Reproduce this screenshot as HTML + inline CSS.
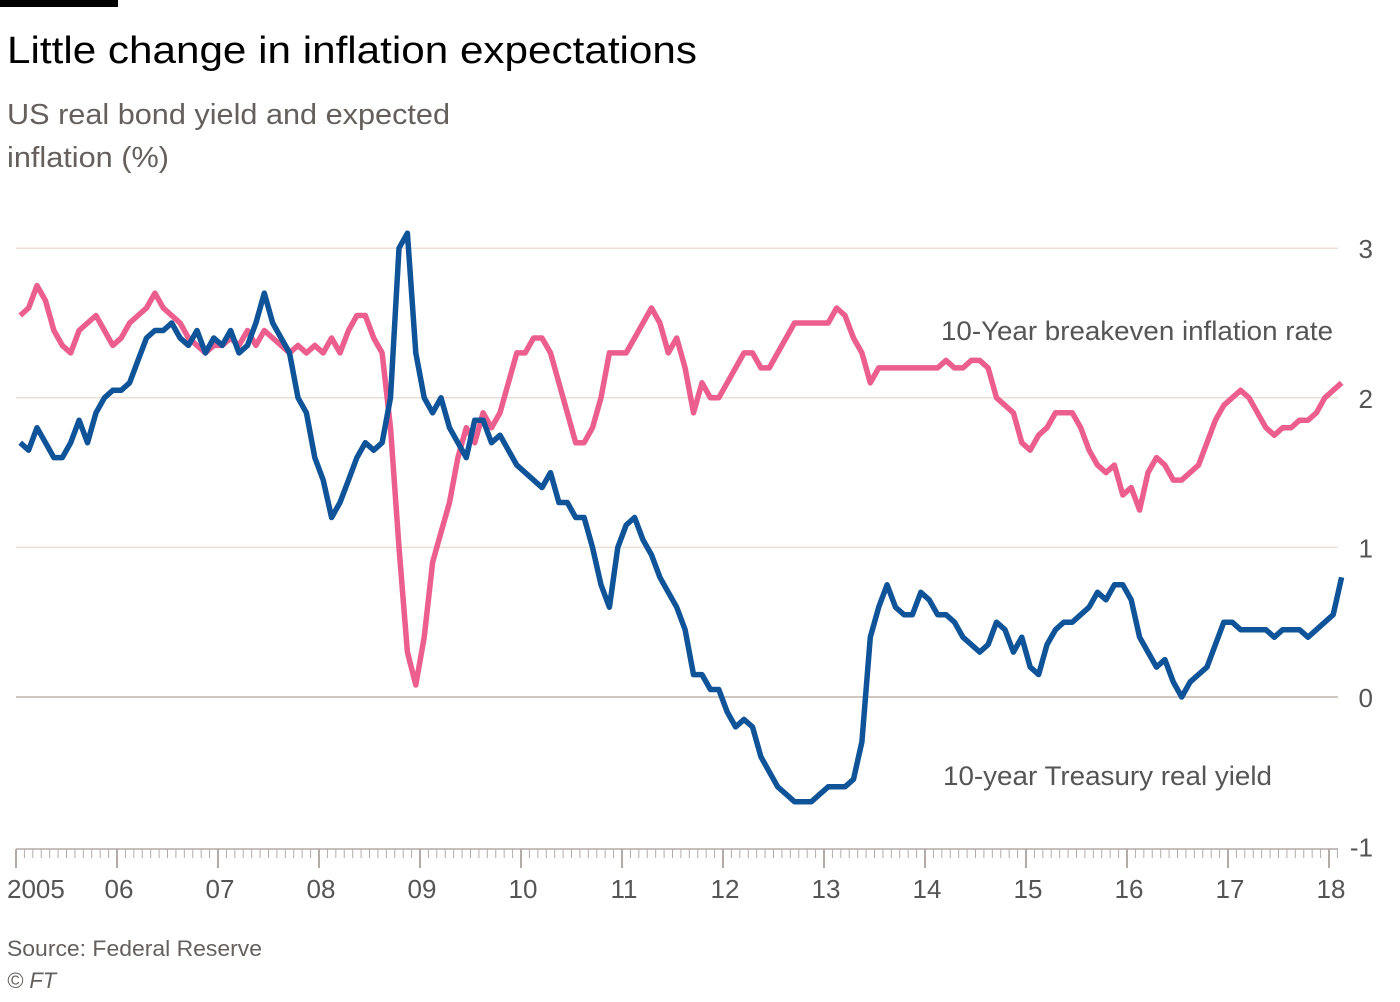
<!DOCTYPE html>
<html><head><meta charset="utf-8">
<style>
body{margin:0;background:#fff;width:1400px;height:997px;overflow:hidden;font-family:"Liberation Sans",sans-serif;}
svg text{font-family:"Liberation Sans",sans-serif;}
</style></head>
<body>
<svg id="chart" width="1400" height="997" xmlns="http://www.w3.org/2000/svg">
<rect x="0" y="0" width="118" height="7" fill="#000"/>
<text x="7" y="63" font-size="38" fill="#000" textLength="690" lengthAdjust="spacingAndGlyphs">Little change in inflation expectations</text>
<text x="7" y="124" font-size="29" fill="#66605c" textLength="443" lengthAdjust="spacingAndGlyphs">US real bond yield and expected</text>
<text x="7" y="167" font-size="29" fill="#66605c" textLength="162" lengthAdjust="spacingAndGlyphs">inflation (%)</text>
<g id="grid"></g>
<g id="xaxis"></g>
<g id="series"></g>
<text x="941" y="340" font-size="27" fill="#555" textLength="392" lengthAdjust="spacingAndGlyphs">10-Year breakeven inflation rate</text>
<text x="943" y="785" font-size="27" fill="#555" textLength="329" lengthAdjust="spacingAndGlyphs">10-year Treasury real yield</text>
<text x="7" y="956" font-size="22" fill="#66605c" textLength="255" lengthAdjust="spacingAndGlyphs">Source: Federal Reserve</text>
<text x="7" y="988" font-size="22" fill="#66605c" font-style="italic">© FT</text>
</svg>
<script>
const yTicks=[3,2,1,0,-1];
const yearLabels=["2005","06","07","08","09","10","11","12","13","14","15","16","17","18"];
const breakeven=[
2.55,2.6,2.75,2.65,2.45,2.35,2.3,2.45,2.5,2.55,2.45,2.35,
2.4,2.5,2.55,2.6,2.7,2.6,2.55,2.5,2.4,2.35,2.3,2.35,
2.35,2.4,2.35,2.45,2.35,2.45,2.4,2.35,2.3,2.35,2.3,2.35,
2.3,2.4,2.3,2.45,2.55,2.55,2.4,2.3,1.8,1.0,0.3,0.08,
0.4,0.9,1.1,1.3,1.6,1.8,1.7,1.9,1.8,1.9,2.1,2.3,
2.3,2.4,2.4,2.3,2.1,1.9,1.7,1.7,1.8,2.0,2.3,2.3,
2.3,2.4,2.5,2.6,2.5,2.3,2.4,2.2,1.9,2.1,2.0,2.0,
2.1,2.2,2.3,2.3,2.2,2.2,2.3,2.4,2.5,2.5,2.5,2.5,
2.5,2.6,2.55,2.4,2.3,2.1,2.2,2.2,2.2,2.2,2.2,2.2,
2.2,2.2,2.25,2.2,2.2,2.25,2.25,2.2,2.0,1.95,1.9,1.7,
1.65,1.75,1.8,1.9,1.9,1.9,1.8,1.65,1.55,1.5,1.55,1.35,
1.4,1.25,1.5,1.6,1.55,1.45,1.45,1.5,1.55,1.7,1.85,1.95,
2.0,2.05,2.0,1.9,1.8,1.75,1.8,1.8,1.85,1.85,1.9,2.0,
2.05,2.1];
const realYield=[
1.7,1.65,1.8,1.7,1.6,1.6,1.7,1.85,1.7,1.9,2.0,2.05,
2.05,2.1,2.25,2.4,2.45,2.45,2.5,2.4,2.35,2.45,2.3,2.4,
2.35,2.45,2.3,2.35,2.5,2.7,2.5,2.4,2.3,2.0,1.9,1.6,
1.45,1.2,1.3,1.45,1.6,1.7,1.65,1.7,2.0,3.0,3.1,2.3,
2.0,1.9,2.0,1.8,1.7,1.6,1.85,1.85,1.7,1.75,1.65,1.55,
1.5,1.45,1.4,1.5,1.3,1.3,1.2,1.2,1.0,0.75,0.6,1.0,
1.15,1.2,1.05,0.95,0.8,0.7,0.6,0.45,0.15,0.15,0.05,0.05,
-0.1,-0.2,-0.15,-0.2,-0.4,-0.5,-0.6,-0.65,-0.7,-0.7,-0.7,-0.65,
-0.6,-0.6,-0.6,-0.55,-0.3,0.4,0.6,0.75,0.6,0.55,0.55,0.7,
0.65,0.55,0.55,0.5,0.4,0.35,0.3,0.35,0.5,0.45,0.3,0.4,
0.2,0.15,0.35,0.45,0.5,0.5,0.55,0.6,0.7,0.65,0.75,0.75,
0.65,0.4,0.3,0.2,0.25,0.1,0.0,0.1,0.15,0.2,0.35,0.5,
0.5,0.45,0.45,0.45,0.45,0.4,0.45,0.45,0.45,0.4,0.45,0.5,
0.55,0.8];
const NS="http://www.w3.org/2000/svg";
const x0=16, yearW=101;
function xMonth(i){return x0+(i+0.5)/12*yearW;}
function yVal(v){return 697-v*149.6;}
function mk(tag,attrs,parent){const e=document.createElementNS(NS,tag);for(const k in attrs)e.setAttribute(k,attrs[k]);parent.appendChild(e);return e;}
const grid=document.getElementById('grid');
yTicks.forEach(t=>{
  if(t>-1){const l=mk('line',{x1:16,x2:1338,y1:yVal(t),y2:yVal(t),stroke:t===0?'#cfc6bd':'#eadfd5','stroke-width':t===0?2:1.5},grid);
  
  }
  const tx=mk('text',{x:1373,y:yVal(t)+10,'font-size':26,fill:'#555','text-anchor':'end'},grid);
  tx.textContent=t;
  
  
});
const xa=document.getElementById('xaxis');
const al=mk('line',{x1:16,x2:1338,y1:849,y2:849,stroke:'#b3aca6','stroke-width':1.5},xa);


for(let m=0;m<=13*12+2;m++){
  const x=x0+m/12*yearW; if(x>1338)break;
  const major=m%12===0;
  mk('line',{x1:x,x2:x,y1:849,y2:major?868:858,stroke:'#b3aca6','stroke-width':major?2:1},xa);
}
yearLabels.forEach((lab,i)=>{
  const t=mk('text',{x:x0+i*yearW+(i===0?-9:2),y:898,'font-size':26,fill:'#555','text-anchor':i===0?'start':'middle'},xa);
  t.textContent=lab;
  
  
});
const sg=document.getElementById('series');
function line(data,color,name){
  const d=data.map((v,i)=>(i?'L':'M')+xMonth(i).toFixed(1)+','+yVal(v).toFixed(1)).join('');
  const p=mk('path',{d:d,fill:'none',stroke:color,'stroke-width':5.5,'stroke-linejoin':'round'},sg);
  
  
}
line(breakeven,'#eb5e8d','breakeven-line');
line(realYield,'#0f5499','real-yield-line');
</script>
</body></html>
